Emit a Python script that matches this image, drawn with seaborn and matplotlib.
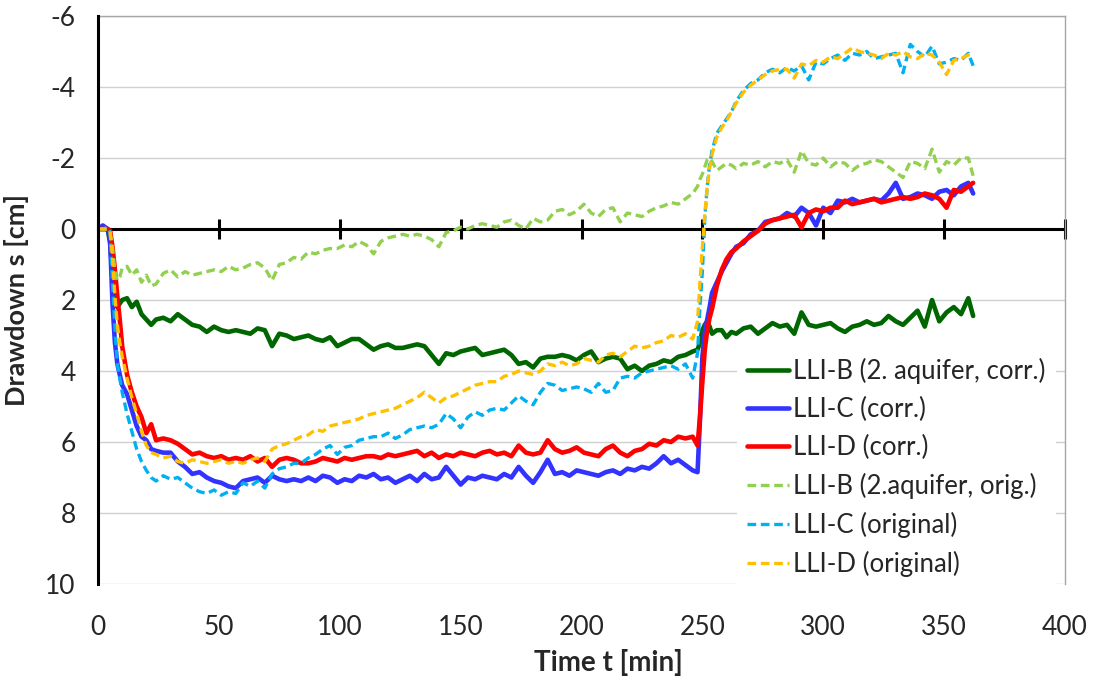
import numpy as np
import pandas as pd
import matplotlib
matplotlib.use("Agg")
import matplotlib.pyplot as plt
import seaborn as sns

# time [min]
time = [0, 2, 4, 5, 6, 7, 8, 9, 10,
        12, 14, 16, 18, 20, 22, 24,
        27, 30, 33, 36, 39, 42, 45, 48, 51, 54,
        57, 60, 63, 66, 69, 72, 75, 78, 81, 84,
        87, 90, 93, 96, 99, 102, 105, 108, 111, 114,
        117, 120, 123, 126, 129, 132, 135, 138, 141, 144,
        147, 150, 153, 156, 159, 162, 165, 168, 171, 174,
        177, 180, 183, 186, 189, 192, 195, 198, 201, 204,
        207, 210, 213, 216, 219, 222, 225, 228, 231, 234,
        237, 240, 243, 246,
        248, 249, 250, 251, 252, 253, 254,
        256, 258, 260, 262, 264,
        267, 270, 273, 276, 279, 282, 285, 288, 291, 294,
        297, 300, 303, 306, 309, 312, 315, 318, 321, 324,
        327, 330, 333, 336, 339, 342, 345, 348, 351, 354,
        357, 360, 362]

# drawdown [cm]
llib_corr = [0, 0, 0, 0.4, 1.3, 2.0, 2.2, 2.1, 2.0,
             1.95, 2.2, 2.05, 2.4, 2.55, 2.7, 2.55,
             2.5, 2.6, 2.4, 2.55, 2.7, 2.75, 2.9, 2.75, 2.85, 2.9,
             2.85, 2.9, 2.95, 2.8, 2.85, 3.3, 2.95, 3.0, 3.1, 3.05,
             3.0, 3.1, 3.15, 3.05, 3.3, 3.2, 3.1, 3.1, 3.25, 3.4,
             3.3, 3.25, 3.35, 3.35, 3.3, 3.25, 3.3, 3.55, 3.8, 3.5,
             3.55, 3.45, 3.4, 3.35, 3.55, 3.5, 3.45, 3.4, 3.55, 3.8,
             3.75, 3.9, 3.65, 3.6, 3.6, 3.55, 3.6, 3.7, 3.55, 3.45,
             3.75, 3.65, 3.6, 3.65, 3.95, 3.85, 4.0, 3.85, 3.8, 3.7,
             3.75, 3.6, 3.55, 3.45,
             3.4, 3.2, 2.85, 2.7, 2.6, 2.75, 2.95,
             2.85, 2.85, 3.05, 2.9, 2.95,
             2.8, 2.75, 2.95, 2.8, 2.65, 2.75, 2.7, 2.95, 2.35, 2.7,
             2.75, 2.7, 2.65, 2.8, 2.9, 2.75, 2.7, 2.6, 2.7, 2.65,
             2.45, 2.6, 2.7, 2.5, 2.3, 2.75, 2.0, 2.6, 2.35, 2.2,
             2.4, 1.95, 2.45]

llic_corr = [0, -0.1, 0.0, 0.3, 2.1, 3.2, 3.8, 4.1, 4.4,
             4.65, 5.1, 5.55, 5.85, 5.95, 6.2, 6.25,
             6.3, 6.3, 6.55, 6.7, 6.9, 6.85, 7.0, 7.1, 7.15, 7.25,
             7.3, 7.1, 7.05, 7.0, 7.15, 6.95, 7.05, 7.1, 7.05, 7.1,
             7.0, 7.1, 6.95, 7.0, 7.15, 7.05, 7.1, 6.95, 7.0, 6.9,
             7.05, 7.0, 7.15, 7.05, 6.95, 7.1, 6.9, 7.05, 7.0, 6.7,
             6.95, 7.2, 7.0, 7.05, 6.95, 7.0, 7.05, 6.9, 7.0, 6.7,
             6.95, 7.15, 6.85, 6.5, 6.9, 6.85, 6.95, 6.8, 6.85, 6.9,
             6.95, 6.85, 6.8, 6.9, 6.75, 6.8, 6.7, 6.75, 6.6, 6.4,
             6.6, 6.5, 6.65, 6.8,
             6.85, 5.4, 3.6, 2.9, 2.55, 2.2, 1.8,
             1.5, 1.2, 0.95, 0.7, 0.5,
             0.4, 0.15, 0.05, -0.2, -0.25, -0.3, -0.45, -0.35, -0.6, -0.45,
             -0.1, -0.6, -0.45, -0.8, -0.75, -0.85, -0.75, -0.8, -0.85, -0.8,
             -1.0, -1.3, -0.85, -0.9, -1.0, -0.95, -0.85, -1.05, -1.1, -0.95,
             -1.2, -1.3, -1.0]

llid_corr = [0, 0, 0, 0.05, 0.5, 1.15, 1.9, 2.55, 3.3,
             4.1, 4.6, 5.0, 5.3, 5.75, 5.5, 5.95,
             5.9, 5.95, 6.05, 6.2, 6.35, 6.3, 6.4, 6.45, 6.4, 6.5,
             6.45, 6.5, 6.4, 6.55, 6.45, 6.7, 6.5, 6.45, 6.5, 6.6,
             6.6, 6.55, 6.45, 6.5, 6.55, 6.45, 6.5, 6.45, 6.4, 6.4,
             6.45, 6.35, 6.4, 6.35, 6.3, 6.25, 6.4, 6.3, 6.45, 6.35,
             6.4, 6.3, 6.35, 6.4, 6.3, 6.25, 6.35, 6.3, 6.4, 6.1,
             6.3, 6.35, 6.3, 5.95, 6.2, 6.3, 6.25, 6.15, 6.3, 6.35,
             6.4, 6.2, 6.1, 6.3, 6.4, 6.25, 6.2, 6.05, 6.1, 5.95,
             6.0, 5.85, 5.9, 5.85,
             6.1, 5.3, 4.3, 3.4, 2.85, 2.5, 2.25,
             1.6, 1.15, 0.85, 0.65, 0.55,
             0.35, 0.2, 0.05, -0.15, -0.25, -0.3, -0.35, -0.4, -0.05, -0.45,
             -0.55, -0.5, -0.6, -0.6, -0.8, -0.7, -0.75, -0.8, -0.85, -0.75,
             -0.8, -0.85, -0.9, -0.85, -0.9, -1.0, -0.95, -0.85, -0.6, -1.1,
             -1.05, -1.2, -1.3]

llib_orig = [0, 0, 0, 0.1, 0.5, 1.2, 1.45, 1.35, 1.1,
             1.05, 1.3, 1.15, 1.5, 1.3, 1.6, 1.55,
             1.25, 1.15, 1.35, 1.2, 1.3, 1.25, 1.2, 1.15, 1.2, 1.05,
             1.15, 1.1, 1.0, 0.95, 1.1, 1.45, 1.0, 0.95, 0.8, 0.85,
             0.65, 0.7, 0.6, 0.55, 0.55, 0.45, 0.5, 0.35, 0.45, 0.7,
             0.35, 0.25, 0.2, 0.15, 0.2, 0.15, 0.2, 0.3, 0.5, 0.1,
             0.05, -0.05, 0.0, -0.1, -0.15, -0.1, -0.05, -0.2, -0.25, -0.1,
             0.0, -0.3, -0.2, -0.25, -0.5, -0.55, -0.4, -0.5, -0.7, -0.45,
             -0.35, -0.55, -0.6, -0.2, -0.45, -0.4, -0.35, -0.5, -0.6, -0.65,
             -0.75, -0.7, -0.85, -1.0,
             -1.2, -1.4, -1.55, -1.75, -1.95, -2.0, -1.9,
             -1.65, -1.75, -1.85, -1.8, -1.7,
             -1.85, -1.8, -1.9, -1.75, -1.9, -1.85, -1.95, -1.6, -2.2, -1.85,
             -1.8, -2.0, -1.75, -1.9, -1.85, -1.65, -1.8, -1.85, -1.95, -1.9,
             -1.75, -1.6, -1.45, -1.9, -1.85, -1.7, -2.25, -1.6, -1.9, -1.8,
             -2.0, -2.0, -1.5]

llic_orig = [0, 0, -0.05, 0.1, 1.5, 2.8, 3.8, 4.2, 4.6,
             5.2, 5.7, 6.2, 6.55, 6.8, 7.0, 7.1,
             6.95, 7.05, 7.0, 7.15, 7.3, 7.4, 7.45, 7.35, 7.5, 7.4,
             7.45, 7.15, 7.25, 7.1, 7.3, 6.9, 6.75, 6.7, 6.6, 6.6,
             6.45, 6.35, 6.2, 6.1, 6.35, 6.15, 6.1, 5.95, 5.9, 5.85,
             5.85, 5.75, 5.9, 5.8, 5.65, 5.6, 5.55, 5.6, 5.5, 5.2,
             5.35, 5.6, 5.3, 5.15, 5.25, 5.1, 5.05, 5.1, 4.9, 4.7,
             4.85, 4.95, 4.6, 4.35, 4.4, 4.55, 4.5, 4.45, 4.5, 4.6,
             4.35, 4.6, 4.55, 4.2, 4.15, 4.2, 4.05, 4.0, 3.95, 3.9,
             3.85, 3.95, 3.8, 4.2,
             3.5, 2.2, 1.2, -0.3, -1.2, -1.8, -2.2,
             -2.7, -2.9, -3.1, -3.3, -3.6,
             -3.9, -4.1, -4.2, -4.4, -4.5, -4.4, -4.55, -4.45, -4.6, -4.2,
             -4.7, -4.65, -4.8, -4.9, -4.75, -4.95, -4.9, -5.0, -4.8, -4.85,
             -4.9, -4.95, -4.4, -5.2, -5.0, -4.85, -5.15, -4.65, -4.7, -4.8,
             -4.75, -4.95, -4.6]

llid_orig = [0, 0, 0, 0.05, 0.8, 1.9, 2.7, 3.2, 3.6,
             4.2, 4.75, 5.2, 5.7, 6.1, 6.3, 6.35,
             6.45, 6.4, 6.55, 6.6, 6.5, 6.55, 6.6, 6.55, 6.5, 6.6,
             6.55, 6.6, 6.5, 6.45, 6.55, 6.2, 6.1, 6.05, 5.95, 5.85,
             5.8, 5.65, 5.7, 5.55, 5.5, 5.45, 5.4, 5.35, 5.25, 5.2,
             5.15, 5.1, 5.05, 4.95, 4.85, 4.75, 4.6, 4.75, 4.9, 4.75,
             4.7, 4.6, 4.5, 4.4, 4.35, 4.3, 4.3, 4.15, 4.1, 4.0,
             4.05, 4.1, 4.0, 3.8, 3.85, 3.75, 3.85, 3.8, 3.65, 3.7,
             3.75, 3.55, 3.5, 3.6, 3.45, 3.3, 3.35, 3.3, 3.2, 3.15,
             3.0, 3.05, 2.95, 3.1,
             2.6, 1.5, 0.5, -0.4, -1.2, -1.7, -2.1,
             -2.6, -2.85, -3.05, -3.3, -3.55,
             -3.85, -4.05, -4.2, -4.35, -4.45, -4.5, -4.5, -4.25, -4.65, -4.6,
             -4.75, -4.7, -4.85, -4.8, -4.95, -5.1, -5.0, -4.95, -4.9, -4.8,
             -4.95, -4.9, -5.0, -4.85, -4.8, -4.95, -4.9, -4.7, -4.35, -4.75,
             -4.8, -4.9, -4.95]

series = [
    ("LLI-B (2. aquifer, corr.)", llib_corr, "#006600", "-", 3.3),
    ("LLI-C (corr.)", llic_corr, "#3333ff", "-", 3.3),
    ("LLI-D (corr.)", llid_corr, "#ff0000", "-", 3.3),
    ("LLI-B (2.aquifer, orig.)", llib_orig, "#92d050", (0, (2.6, 1.4)), 2.4),
    ("LLI-C (original)", llic_orig, "#00b0f0", (0, (2.6, 1.4)), 2.4),
    ("LLI-D (original)", llid_orig, "#ffc000", (0, (2.6, 1.4)), 2.4),
]

sns.set_style("white")
plt.rcParams['font.family'] = ['Lato', 'DejaVu Sans']

fig = plt.figure(figsize=(10.94, 6.85), dpi=100)
ax = fig.add_axes([98 / 1094, 1 - 584 / 685, (1065 - 98) / 1094, (584 - 16) / 685])

for name, vals, col, ls, lw in series:
    sns.lineplot(x=time, y=vals, ax=ax, color=col, linestyle=ls, linewidth=lw, label=name)

ax.set_xlim(0, 400)
ax.set_ylim(10, -6)
ax.set_yticks([-6, -4, -2, 0, 2, 4, 6, 8, 10])
ax.set_xticks([0, 50, 100, 150, 200, 250, 300, 350, 400])
ax.yaxis.grid(True, color="#d0d0d0", linewidth=1.0)
ax.xaxis.grid(False)
ax.set_axisbelow(True)

# x axis line runs through s = 0
ax.spines['bottom'].set_position(('data', 0))
ax.spines['bottom'].set_color('black')
ax.spines['bottom'].set_linewidth(2.2)
ax.spines['left'].set_color('black')
ax.spines['left'].set_linewidth(2.2)
ax.spines['top'].set_color('#a6a6a6')
ax.spines['right'].set_color('#a6a6a6')
ax.spines['top'].set_linewidth(1.0)
ax.spines['right'].set_linewidth(1.0)
ax.spines['left'].set_zorder(5)
ax.spines['bottom'].set_zorder(1.5)

ax.tick_params(axis='x', direction='inout', length=14, width=2.2, color='black',
               labelbottom=False, bottom=True)
ax.tick_params(axis='y', direction='inout', length=14, width=2.2, color='black',
               labelsize=19, pad=9)
ax.set_yticklabels(['-6', '-4', '-2', '0', '2', '4', '6', '8', '10'])

# tick labels for time along the bottom edge
sec = ax.secondary_xaxis(0)
sec.set_xticks([0, 50, 100, 150, 200, 250, 300, 350, 400])
sec.tick_params(axis='x', length=0, labelsize=19, pad=22)
sec.spines['bottom'].set_visible(False)

fig.text(608 / 1094, 1 - 663 / 685, 'Time t [min]', fontsize=20, fontweight='bold',
         ha='center', va='center')

ax.set_ylabel('Drawdown s [cm]', fontsize=19.5, fontweight='bold', labelpad=12)
ax.set_xlabel('')

leg = ax.legend(loc='upper left', bbox_to_anchor=(0.661, 0.4155), borderaxespad=0,
                fontsize=18.5, frameon=True, facecolor='white', edgecolor='none',
                framealpha=1, fancybox=False, handlelength=1.63, handletextpad=0.15,
                labelspacing=0.5, borderpad=0.4)
leg.set_zorder(10)

fig.savefig("out.png", dpi=100)
